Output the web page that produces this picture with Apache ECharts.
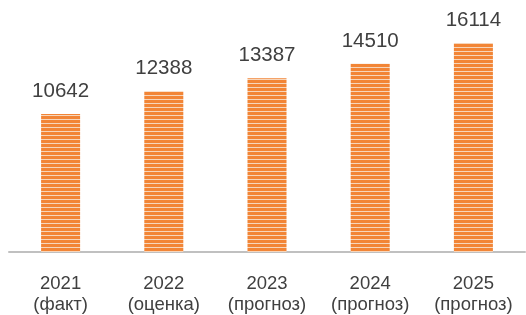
<!DOCTYPE html>
<html>
<head>
<meta charset="utf-8">
<style>
* { margin: 0; padding: 0; }
#chart { width: 526px; height: 315px; }
</style>
</head>
<body>
<div id="chart"></div>
<script src="https://cdn.jsdelivr.net/npm/echarts@6/dist/echarts.min.js"></script>
<script>
var years = ['2021', '2022', '2023', '2024', '2025'];
var notes = ['(факт)', '(оценка)', '(прогноз)', '(прогноз)', '(прогноз)'];
var values = [10642, 12388, 13387, 14510, 16114];

// striped fill for bars
var pat = document.createElement('canvas');
pat.width = 4;
pat.height = 4;
var ctx = pat.getContext('2d');
ctx.fillStyle = '#f7d6bb';
ctx.fillRect(0, 0, 4, 4);
ctx.fillStyle = '#f28536';
ctx.fillRect(0, 0, 4, 3);

var chart = echarts.init(document.getElementById('chart'));
chart.setOption({
  backgroundColor: '#fff',
  animation: false,
  grid: { left: 9, right: 1, top: 18.5, bottom: 63 },
  xAxis: {
    type: 'category',
    data: years.map(function (y, i) { return y + '\n' + notes[i]; }),
    axisLine: { lineStyle: { color: '#c0c0c0', width: 2 } },
    axisTick: { show: false },
    axisLabel: {
      color: '#404040',
      fontFamily: 'Liberation Sans',
      fontSize: 18.5,
      lineHeight: 21,
      margin: 21
    }
  },
  yAxis: {
    type: 'value',
    min: 0,
    max: 18000,
    show: false,
    splitLine: { show: false }
  },
  series: [{
    type: 'bar',
    data: values,
    barWidth: 39,
    itemStyle: { color: { image: pat, repeat: 'repeat' } },
    label: {
      show: true,
      position: 'top',
      distance: 12,
      color: '#404040',
      fontFamily: 'Liberation Sans',
      fontSize: 20.5
    }
  }]
});
</script>
</body>
</html>
